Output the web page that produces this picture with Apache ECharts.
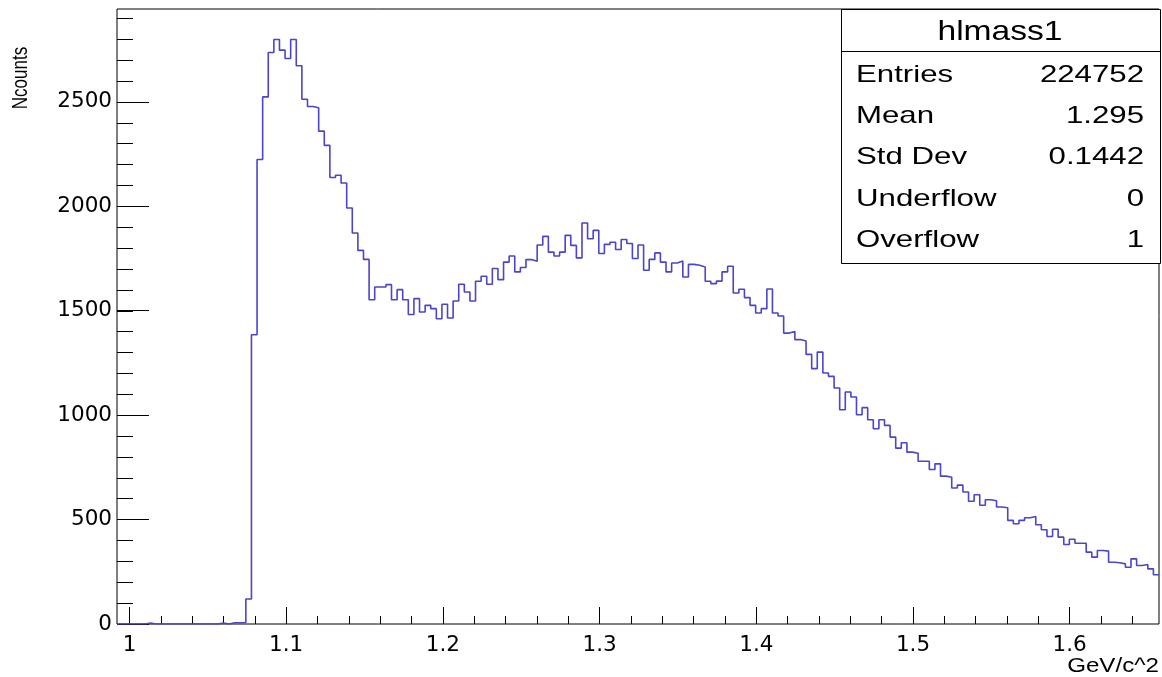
<!DOCTYPE html>
<html><head><meta charset="utf-8">
<script src="https://cdn.jsdelivr.net/npm/echarts@6/dist/echarts.min.js"></script>
<style>html,body{margin:0;padding:0;background:#fff}#c{width:1162px;height:677px}</style>
</head><body><div id="c"></div>
<script>
// ---- data ----
const xMin = 0.992, xMax = 1.657, nBins = 186;
const counts = [
  0,0,0,0,0,4,0,0,0,0,
  0,0,0,0,0,0,0,0,5,0,
  6,6,7,120,1385,2224,2524,2737,2799,2748,
  2708,2799,2673,2513,2478,2472,2360,2292,2138,2149,
  2112,1992,1872,1789,1746,1553,1614,1614,1625,1553,
  1601,1553,1482,1558,1494,1526,1510,1462,1531,1465,
  1547,1627,1590,1547,1641,1665,1627,1702,1649,1733,
  1762,1686,1707,1745,1737,1815,1856,1781,1762,1781,
  1861,1813,1753,1920,1845,1885,1774,1818,1828,1793,
  1841,1822,1750,1815,1694,1746,1777,1733,1686,1729,
  1738,1662,1722,1718,1710,1641,1630,1642,1686,1713,
  1585,1603,1563,1526,1489,1510,1604,1489,1475,1393,
  1401,1362,1355,1291,1223,1302,1202,1186,1130,1026,
  1111,1087,1002,1036,978,935,978,951,895,842,
  868,823,818,779,779,740,767,708,703,651,
  665,632,588,619,569,595,590,560,557,496,
  480,496,509,515,475,451,419,454,416,381,
  406,387,387,344,320,352,349,296,293,288,
  272,312,280,285,264,236
];
const yMax = 2945;
const xTickLabels = ['1','1.1','1.2','1.3','1.4','1.5','1.6'];
const yTickLabels = ['0','500','1000','1500','2000','2500'];
const xTitle = 'GeV/c^2';
const yTitle = 'Ncounts';
const statsTitle = 'hlmass1';
const statsNames = ['Entries','Mean','Std Dev','Underflow','Overflow'];
const statsValues = ['224752','1.295','0.1442','0','1'];

// ---- build ----
const F = '"Liberation Sans", Arial, Helvetica, sans-serif';
const FL = '"DejaVu Sans", "Liberation Sans", sans-serif';
const bw = (xMax - xMin) / nBins;
const pts = counts.map((v, i) => [xMin + i * bw, v]);
pts.push([xMax, counts[counts.length - 1]]);

const chart = echarts.init(document.getElementById('c'), null, {renderer: 'canvas'});
const rowY = [75, 116.5, 157.5, 199, 240.5];
const graphics = [
  {type:'rect', z:100, shape:{x:841.5, y:9.5, width:319, height:254}, style:{fill:'#fff', stroke:'#000', lineWidth:1}},
  {type:'line', z:101, shape:{x1:841.5, y1:51.5, x2:1160.5, y2:51.5}, style:{stroke:'#000', lineWidth:1}},
  {type:'text', z:102, x:1000, y:32, scaleX:1.2, style:{text:statsTitle, font:'28px ' + F, fill:'#000', align:'center', verticalAlign:'middle'}},
  {type:'text', z:102, x:1159, y:666, scaleX:1.15, style:{text:xTitle, font:'21px ' + F, fill:'#000', align:'right', verticalAlign:'middle'}},
  {type:'text', z:102, x:21, y:78, rotation:Math.PI/2, scaleY:1.25, style:{text:yTitle, font:'17px ' + F, fill:'#000', align:'center', verticalAlign:'middle'}}
];
statsNames.forEach((n, i) => {
  graphics.push({type:'text', z:102, x:856, y:rowY[i], scaleX:1.3, style:{text:n, font:'24px ' + F, fill:'#000', align:'left', verticalAlign:'middle'}});
  graphics.push({type:'text', z:102, x:1144, y:rowY[i], scaleX:1.3, style:{text:statsValues[i], font:'24px ' + F, fill:'#000', align:'right', verticalAlign:'middle'}});
});

const noSplit = {show:false};
chart.setOption({
  animation:false,
  backgroundColor:'#fff',
  grid:[
    {left:117, right:3, top:9, bottom:53, show:true, borderColor:'#000', borderWidth:1, backgroundColor:'transparent'},
    {left:129.5, right:92.3, top:101.9, bottom:53},
    {left:129.5, right:29.6, top:18.4, bottom:53}
  ],
  xAxis:[
    {gridIndex:0, type:'value', min:xMin, max:xMax, show:false},
    {gridIndex:1, type:'value', min:1, max:1.6, interval:0.1, axisLine:{show:false},
     axisTick:{inside:true, length:17, lineStyle:{color:'#000', width:1}},
     axisLabel:{fontSize:21.5, color:'#000', fontFamily:FL, margin:10,
       formatter:(v)=>{const i=Math.round((v-1)/0.1); return xTickLabels[i] ?? '';}},
     splitLine:noSplit},
    {gridIndex:2, type:'value', min:1, max:1.64, interval:0.02, axisLine:{show:false},
     axisTick:{inside:true, length:8, lineStyle:{color:'#000', width:1}},
     axisLabel:{show:false}, splitLine:noSplit}
  ],
  yAxis:[
    {gridIndex:0, type:'value', min:0, max:yMax, show:false},
    {gridIndex:1, type:'value', min:0, max:2500, interval:500, offset:12.5, axisLine:{show:false},
     axisTick:{inside:true, length:32, lineStyle:{color:'#000', width:1}},
     axisLabel:{fontSize:21.5, color:'#000', fontFamily:FL, margin:5,
       formatter:(v)=>yTickLabels[Math.round(v/500)] ?? ''},
     splitLine:noSplit},
    {gridIndex:2, type:'value', min:0, max:2900, interval:100, offset:12.5, axisLine:{show:false},
     axisTick:{inside:true, length:16, lineStyle:{color:'#000', width:1}},
     axisLabel:{show:false}, splitLine:noSplit}
  ],
  series:[{
    type:'line', xAxisIndex:0, yAxisIndex:0, data:pts, step:'end', symbol:'none',
    lineStyle:{color:'#4b44cc', width:1.6}, clip:true, z:5
  }],
  graphic:graphics
});
</script>
</body></html>
